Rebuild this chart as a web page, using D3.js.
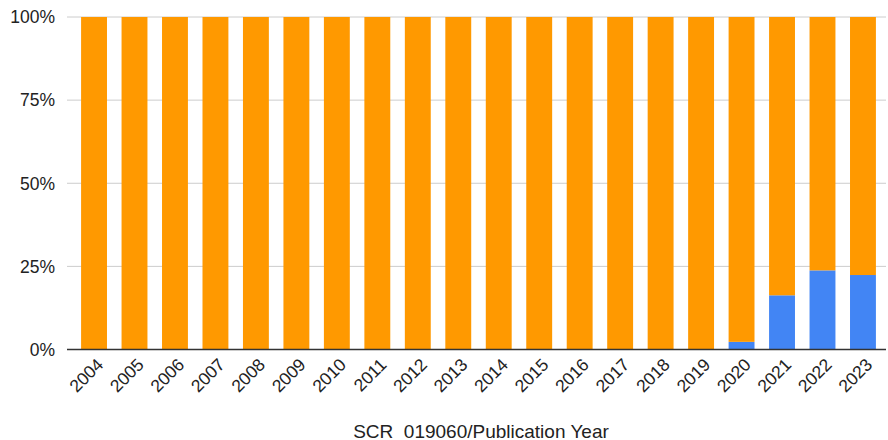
<!DOCTYPE html>
<html>
<head>
<meta charset="utf-8">
<script src="https://cdn.jsdelivr.net/npm/d3@7"></script>
<style>
  html, body { margin: 0; padding: 0; background: #fff; }
  svg { display: block; font-family: "Liberation Sans", Arial, sans-serif; }
</style>
</head>
<body>
<svg id="chart" width="888" height="440"></svg>
<script>
// Share of publications per year, split into two groups (percent of total)
const years = ["2004","2005","2006","2007","2008","2009","2010","2011","2012","2013",
               "2014","2015","2016","2017","2018","2019","2020","2021","2022","2023"];
const bluePct = [0,0,0,0,0,0,0,0,0,0,0,0,0,0,0,0,2.3,16.3,23.8,22.4];
const orangePct = bluePct.map(v => 100 - v);
const yTicks = [0, 25, 50, 75, 100];
const xTitle = "SCR  019060/Publication Year";

const svg = d3.select("#chart");
const gridLeft = 67, gridRight = 886;
const yTop = 17, yBottom = 349.5;

const x = d3.scaleBand()
  .domain(years)
  .range([73.8, 883.2])
  .paddingInner(0.36)
  .paddingOuter(0.18);

const y = d3.scaleLinear().domain([0, 100]).range([yBottom, yTop]);

// horizontal gridlines
svg.append("g")
  .selectAll("line")
  .data(yTicks.filter(t => t > 0))
  .join("line")
  .attr("x1", gridLeft).attr("x2", gridRight)
  .attr("y1", d => y(d)).attr("y2", d => y(d))
  .attr("stroke", "#cccccc").attr("stroke-width", 1);

// stacked bars: blue at the bottom, orange on top
const stackData = years.map((yr, i) => ({ year: yr, blue: bluePct[i], orange: orangePct[i] }));
const series = d3.stack().keys(["blue", "orange"])(stackData);
const colors = { blue: "#4285f4", orange: "#ff9900" };

svg.append("g")
  .selectAll("g")
  .data(series)
  .join("g")
  .attr("fill", s => colors[s.key])
  .selectAll("rect")
  .data(s => s)
  .join("rect")
  .attr("x", d => x(d.data.year))
  .attr("width", x.bandwidth())
  .attr("y", d => y(d[1]))
  .attr("height", d => Math.max(0, y(d[0]) - y(d[1])));

// baseline
svg.append("line")
  .attr("x1", gridLeft).attr("x2", gridRight)
  .attr("y1", y(0)).attr("y2", y(0))
  .attr("stroke", "#333333").attr("stroke-width", 1.3);

// y tick labels
svg.append("g")
  .selectAll("text")
  .data(yTicks)
  .join("text")
  .attr("x", 55)
  .attr("y", d => y(d))
  .attr("dy", "0.36em")
  .attr("text-anchor", "end")
  .attr("font-size", 17.5)
  .attr("fill", "#222")
  .text(d => d + "%");

// x tick labels, rotated
svg.append("g")
  .selectAll("text")
  .data(years)
  .join("text")
  .attr("transform", d => `translate(${x(d) + x.bandwidth() / 2 + 6},${y(0) + 12}) rotate(-45)`)
  .attr("text-anchor", "end")
  .attr("dy", "0.35em")
  .attr("font-size", 17.5)
  .attr("fill", "#222")
  .text(d => d);

// axis title
svg.append("text")
  .attr("x", 481)
  .attr("y", 437.5)
  .attr("text-anchor", "middle")
  .attr("font-size", 19)
  .attr("fill", "#222")
  .attr("xml:space", "preserve")
  .style("white-space", "pre")
  .text(xTitle);
</script>
</body>
</html>
